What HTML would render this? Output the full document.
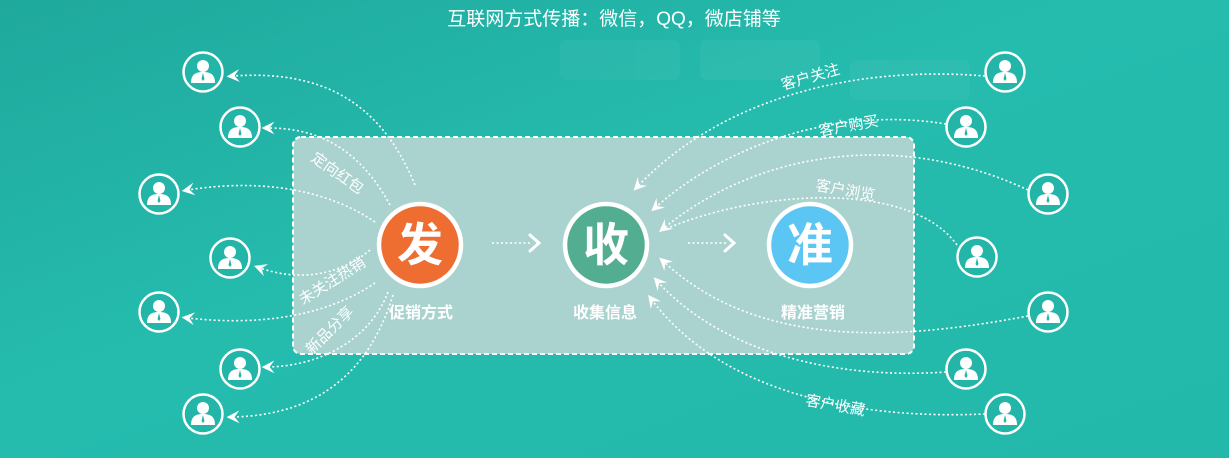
<!DOCTYPE html>
<html><head><meta charset="utf-8"><style>
html,body{margin:0;padding:0;width:1229px;height:458px;overflow:hidden}
body{background:linear-gradient(160deg,#1fa99d 0%,#25bcae 45%,#22b8aa 100%);font-family:"Liberation Sans","Noto Sans CJK SC",sans-serif}
svg{position:absolute;left:0;top:0}
</style></head><body>
<svg width="1229" height="458" viewBox="0 0 1229 458" font-family="Liberation Sans, Noto Sans CJK SC, sans-serif">
<defs>
<marker id="a" markerWidth="8" markerHeight="8" refX="4" refY="4" orient="auto"><path d="M8,0 L0,4 L8,8 L5,4z" fill="#fff" transform="rotate(180 4 4)"/></marker>
<g id="p"><circle r="19.5" fill="#22b5a8" stroke="#fff" stroke-width="2.5"/><circle cy="-6" r="6" fill="#fff"/><path d="M-12,11 C-12,2 -7,0 0,0 C7,0 12,2 12,11z" fill="#fff"/><path d="M0,1 l-1.5,6 1.5,2 1.5,-2z" fill="#22b5a8"/></g>
</defs>
<g opacity="0.04" fill="#fff"><rect x="560" y="40" width="120" height="40" rx="6"/><rect x="700" y="40" width="120" height="40" rx="6"/><rect x="850" y="60" width="120" height="40" rx="6"/></g>
<text x="614" y="25" fill="#fff" font-size="19" text-anchor="middle">互联网方式传播：微信，QQ，微店铺等</text>
<rect x="293" y="137" width="621" height="217" rx="8" fill="#bdd6d4" fill-opacity="0.88" stroke="#fff" stroke-width="2" stroke-dasharray="5,3"/>
<g fill="none" stroke="#fff" stroke-width="1.6" stroke-dasharray="2,2.5">
<path d="M415,185 C380,100 320,70 233,76" marker-end="url(#a)"/>
<path d="M390,205 C360,150 320,128 268,128" marker-end="url(#a)"/>
<path d="M375,222 C320,185 250,180 188,190" marker-end="url(#a)"/>
<path d="M370,250 C340,275 300,282 260,268" marker-end="url(#a)"/>
<path d="M375,283 C320,320 250,325 188,318" marker-end="url(#a)"/>
<path d="M388,292 C370,340 320,366 268,367" marker-end="url(#a)"/>
<path d="M393,295 C370,370 320,415 233,417" marker-end="url(#a)"/>
<path d="M985,76 C850,65 720,100 638,186" marker-end="url(#a)"/>
<path d="M946,124 C830,105 720,150 656,207" marker-end="url(#a)"/>
<path d="M1028,190 C900,130 760,150 664,228" marker-end="url(#a)"/>
<path d="M957,245 C910,180 760,190 668,228"/>
<path d="M1028,316 C900,340 760,350 664,262" marker-end="url(#a)"/>
<path d="M946,372 C830,380 720,350 658,282" marker-end="url(#a)"/>
<path d="M985,414 C850,420 720,390 652,300" marker-end="url(#a)"/>
<path d="M492,243 H532"/><path d="M688,243 H727"/>
</g>
<g fill="none" stroke="#fff" stroke-width="3" stroke-linecap="round"><path d="M530,235 l9,8 -9,8"/><path d="M725,235 l9,8 -9,8"/></g>
<g fill="#fff" font-size="15">
<text transform="translate(310,160) rotate(35)">定向红包</text>
<text transform="translate(303,305) rotate(-32)">未关注热销</text>
<text transform="translate(312,355) rotate(-45)">新品分享</text>
<text transform="translate(783,90) rotate(-16)">客户关注</text>
<text transform="translate(820,136) rotate(-10)">客户购买</text>
<text transform="translate(815,190) rotate(10)">客户浏览</text>
<text transform="translate(805,405) rotate(10)">客户收藏</text>
</g>
<g stroke="#fff" stroke-width="4.5">
<circle cx="420" cy="245" r="41" fill="#ee6d31"/>
<circle cx="606" cy="245" r="41" fill="#52ad91"/>
<circle cx="810" cy="245" r="41" fill="#5bc5f4"/>
</g>
<g fill="#fff" font-size="46" font-weight="bold" text-anchor="middle">
<text x="420" y="261">发</text><text x="606" y="261">收</text><text x="810" y="261">准</text>
</g>
<g fill="#fff" font-size="16" font-weight="bold" text-anchor="middle">
<text x="421" y="318">促销方式</text><text x="605" y="318">收集信息</text><text x="813" y="318">精准营销</text>
</g>
<use href="#p" x="203" y="72"/><use href="#p" x="240" y="127"/><use href="#p" x="159" y="194"/><use href="#p" x="230" y="258"/><use href="#p" x="159" y="312"/><use href="#p" x="240" y="369"/><use href="#p" x="203" y="414"/>
<use href="#p" x="1005" y="72"/><use href="#p" x="966" y="127"/><use href="#p" x="1048" y="194"/><use href="#p" x="977" y="257"/><use href="#p" x="1048" y="312"/><use href="#p" x="966" y="369"/><use href="#p" x="1005" y="414"/>
</svg>
</body></html>
